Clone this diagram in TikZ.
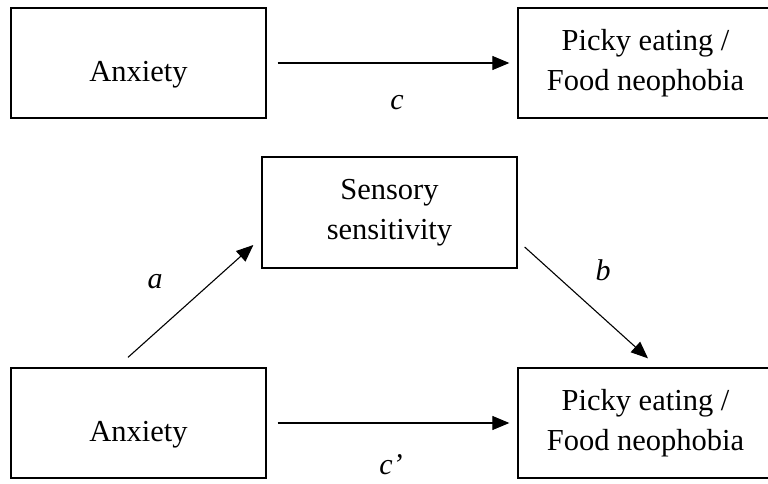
\documentclass[tikz,border=0pt]{standalone}
\usepackage{fontspec}
\setmainfont{Liberation Serif}
\usepackage{tikz}
\usetikzlibrary{calc}
\usetikzlibrary{positioning}
\usetikzlibrary{arrows.meta}

\begin{document}
\begin{tikzpicture}[x=1pt, y=1pt]

                \def\w{255pt}
                \def\h{110pt}

                % Box and arrow looks
                \tikzset{
                    varbox/.style={draw, line width=1.3pt, minimum width=\w,
                        minimum height=\h, align=center, inner sep=0pt,
                        font=\fontsize{30.5}{40}\selectfont},
                    anxbox/.style={varbox, text height=44pt},
                    arr/.style={line width=1.1pt,
                        -{Triangle[length=17pt, width=14pt]}},
                    lbl/.style={font=\fontsize{30}{34}\selectfont\itshape}
                }

                \useasboundingbox (0, 0) rectangle (768, 483);

                % Total effect
                \begin{scope}
                    \node[anxbox] (anx1) at (138.5, 420)
                    {Anxiety};
                    \node[varbox] (pick1) at (645.5, 420)
                    {Picky eating /\\Food neophobia};
                \end{scope}

                % Mediation
                \begin{scope}
                    \node[varbox, minimum height=111pt] (sens) at (389.5, 270.5)
                    {Sensory\\sensitivity};
                    \node[anxbox] (anx2) at (138.5, 60)
                    {Anxiety};
                    \node[varbox] (pick2) at (645.5, 60)
                    {Picky eating /\\Food neophobia};
                \end{scope}

                \begin{scope}[arr]
                    \draw[shorten <=11pt, shorten >=8pt] (anx1) -- (pick1);
                    \draw ([shift={(-10.5, 10)}]anx2.north)
                        -- ([shift={(-8, -32.5)}]sens.west);
                    \draw ([shift={(7, -34.5)}]sens.east)
                        -- ([shift={(2.5, 9)}]pick2.north);
                    \draw[shorten <=11pt, shorten >=8pt] (anx2) -- (pick2);
                \end{scope}

                % Path labels
                \node[lbl] (c) at (397, 380) {c};
                \node[lbl] (a) at (155, 201) {a};
                \node[lbl] (b) at (603, 213) {b};
                \node[lbl] (cp) at (391, 18) {c’};

                \end{tikzpicture}
\end{document}
